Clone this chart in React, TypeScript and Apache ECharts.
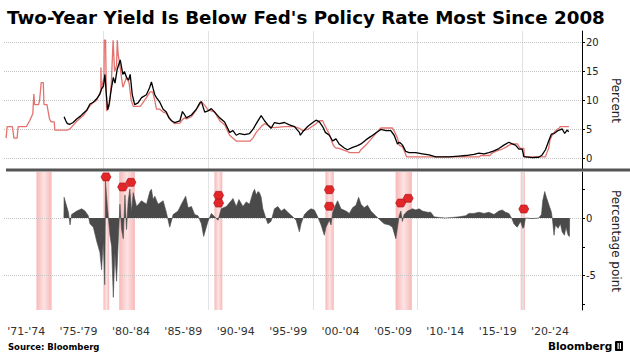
import React, { useEffect, useRef } from "react";
import * as echarts from "echarts";

const titleText = "Two-Year Yield Is Below Fed's Policy Rate Most Since 2008";
const periodLabels = ["'71-'74", "'75-'79", "'80-'84", "'85-'89", "'90-'94", "'95-'99", "'00-'04", "'05-'09", "'10-'14", "'15-'19", "'20-'24"];
const topTicks = [0, 5, 10, 15, 20];
const bottomTicks = [2.5, 0, -2.5, -5, -7.5];
const bottomLabels = [0, -5];
const decadeLines = [1980, 1990, 2000, 2010, 2020];

// Fed policy rate (upper bound), [year, percent]
const policyRate: [number, number][] = [
  [1970.7, 3.5], [1970.8, 5.5], [1971.3, 5.5], [1971.45, 3.5], [1971.75, 3.5], [1971.85, 5.5], [1972.65, 5.5],
  [1972.95, 6.5], [1973.25, 7.7], [1973.35, 11.1], [1973.42, 9.3], [1973.8, 9.3], [1973.9, 10.0], [1974.05, 13.1],
  [1974.25, 13.1], [1974.32, 9.3], [1974.6, 9.3], [1974.85, 6.8], [1975.0, 6.3], [1975.3, 6.3], [1975.35, 4.9],
  [1976.5, 4.9], [1976.8, 5.1], [1977.44, 6.4], [1978.08, 7.4], [1978.71, 9.1], [1979.03, 9.7], [1979.35, 10.0],
  [1979.66, 11.4], [1979.74, 11.5], [1979.76, 15.7], [1979.8, 12.0], [1980.05, 14.0], [1980.08, 20.4], [1980.2, 20.4],
  [1980.3, 8.2], [1980.55, 9.0], [1980.75, 13.0], [1980.92, 20.4], [1980.98, 20.4], [1981.06, 15.0], [1981.25, 16.0],
  [1981.32, 20.4], [1981.4, 18.0], [1981.57, 16.0], [1981.85, 12.3], [1982.0, 13.0], [1982.2, 14.0], [1982.45, 13.0],
  [1982.65, 10.0], [1982.85, 9.0], [1983.5, 9.0], [1983.64, 9.3], [1984.1, 10.5], [1984.45, 11.5], [1984.7, 11.5],
  [1984.9, 10.0], [1985.06, 8.5], [1985.38, 8.5], [1985.7, 8.0], [1986.0, 7.8], [1986.5, 6.5], [1986.8, 6.0],
  [1987.3, 6.1], [1987.54, 6.7], [1987.76, 7.0], [1987.92, 6.8], [1988.4, 7.2], [1988.87, 8.4], [1989.35, 9.8],
  [1989.66, 9.2], [1989.98, 8.4], [1990.3, 8.2], [1990.62, 8.0], [1991.1, 6.5], [1991.57, 5.8], [1992.05, 4.0],
  [1992.37, 3.5], [1992.68, 3.0], [1994.0, 3.0], [1994.27, 3.5], [1994.59, 4.5], [1995.06, 5.5], [1995.38, 6.0],
  [1995.7, 5.7], [1996.0, 5.4], [1996.33, 5.3], [1997.28, 5.5], [1998.24, 5.5], [1998.71, 5.2], [1999.03, 4.8],
  [1999.5, 5.0], [1999.99, 5.6], [2000.3, 6.0], [2000.62, 6.5], [2000.93, 6.5], [2001.19, 5.5], [2001.57, 4.2],
  [2001.89, 2.5], [2002.05, 2.0], [2002.2, 1.8], [2002.5, 1.75], [2003.0, 1.4], [2003.3, 1.2], [2003.5, 1.0],
  [2004.4, 1.0], [2004.59, 1.5], [2005.06, 2.3], [2005.54, 3.3], [2006.0, 4.3], [2006.49, 5.25], [2007.6, 5.25],
  [2007.76, 4.75], [2008.08, 3.5], [2008.24, 2.3], [2008.56, 2.0], [2008.8, 1.0], [2008.95, 0.25], [2015.9, 0.25],
  [2016.0, 0.5], [2016.9, 0.5], [2017.0, 0.75], [2017.2, 1.0], [2017.5, 1.25], [2017.95, 1.5], [2018.24, 1.75],
  [2018.5, 2.0], [2018.72, 2.25], [2018.95, 2.5], [2019.55, 2.5], [2019.6, 2.25], [2019.7, 2.0], [2019.8, 1.75],
  [2020.15, 1.75], [2020.18, 0.25], [2022.2, 0.25], [2022.35, 1.0], [2022.52, 1.75], [2022.65, 3.25], [2022.85, 4.0],
  [2023.03, 4.5], [2023.32, 5.0], [2023.54, 5.25], [2023.62, 5.5], [2024.45, 5.5],
];

// Two-year Treasury yield, [year, percent]
const twoYearYield: [number, number][] = [
  [1976.24, 7.2], [1976.4, 6.5], [1976.55, 6.0], [1976.8, 5.9], [1977.1, 6.2], [1977.44, 6.8], [1977.8, 7.3],
  [1978.08, 7.8], [1978.4, 8.3], [1978.71, 9.4], [1979.03, 9.7], [1979.35, 10.3], [1979.66, 11.1], [1979.82, 12.0],
  [1980.0, 12.5], [1980.14, 14.5], [1980.25, 11.5], [1980.4, 8.4], [1980.55, 9.5], [1980.75, 12.0], [1980.94, 14.0],
  [1981.1, 13.0], [1981.3, 15.3], [1981.6, 17.0], [1981.85, 14.5], [1982.0, 15.0], [1982.2, 14.0], [1982.4, 13.5],
  [1982.55, 14.5], [1982.75, 11.0], [1982.98, 9.3], [1983.3, 9.6], [1983.64, 10.5], [1984.1, 11.0], [1984.4, 12.2],
  [1984.58, 13.2], [1984.75, 12.0], [1984.9, 11.0], [1985.06, 10.5], [1985.38, 9.7], [1985.7, 8.5], [1986.0, 8.0],
  [1986.25, 7.0], [1986.5, 6.5], [1986.8, 6.2], [1987.3, 6.5], [1987.54, 8.1], [1987.76, 7.5], [1987.92, 7.0],
  [1988.4, 7.5], [1988.87, 8.5], [1989.2, 9.6], [1989.35, 9.8], [1989.67, 8.0], [1989.98, 8.2], [1990.3, 8.6],
  [1990.62, 8.0], [1991.1, 7.0], [1991.57, 6.3], [1992.05, 4.5], [1992.37, 4.8], [1992.68, 4.0], [1993.0, 4.3],
  [1993.47, 4.1], [1993.95, 4.3], [1994.27, 5.0], [1994.59, 6.0], [1995.06, 7.4], [1995.38, 6.5], [1995.7, 5.8],
  [1996.0, 5.2], [1996.33, 6.2], [1996.8, 6.0], [1997.28, 6.2], [1997.76, 5.8], [1998.24, 5.5], [1998.71, 4.5],
  [1998.8, 4.0], [1999.03, 4.6], [1999.5, 5.5], [1999.99, 6.2], [2000.3, 6.6], [2000.62, 6.3], [2000.93, 5.5],
  [2001.19, 4.5], [2001.57, 4.0], [2001.89, 3.0], [2002.05, 3.2], [2002.2, 3.4], [2002.5, 2.5], [2003.0, 1.8],
  [2003.3, 1.5], [2003.8, 1.9], [2004.27, 2.2], [2004.59, 2.5], [2005.06, 3.2], [2005.54, 3.8], [2006.0, 4.4],
  [2006.49, 5.0], [2006.97, 4.8], [2007.44, 4.8], [2007.76, 4.0], [2008.08, 2.5], [2008.24, 2.8], [2008.4, 2.6],
  [2008.56, 2.3], [2008.87, 1.2], [2009.19, 1.0], [2009.83, 1.0], [2010.46, 0.8], [2011.1, 0.6], [2011.73, 0.25],
  [2013.0, 0.25], [2013.95, 0.4], [2014.59, 0.5], [2015.38, 0.7], [2015.86, 0.9], [2016.34, 0.8], [2016.81, 1.0],
  [2017.29, 1.3], [2017.76, 1.7], [2018.24, 2.3], [2018.72, 2.8], [2019.03, 2.5], [2019.35, 2.3], [2019.67, 1.6],
  [2019.99, 1.6], [2020.15, 0.3], [2020.94, 0.15], [2021.57, 0.2], [2021.89, 0.6], [2022.21, 1.5], [2022.52, 3.0],
  [2022.78, 4.2], [2023.03, 4.3], [2023.32, 4.7], [2023.54, 4.9], [2023.8, 5.1], [2024.05, 4.3], [2024.27, 4.9],
  [2024.43, 4.6],
];

// Spread (two-year yield minus policy rate), [year, percentage point]
const spread: [number, number][] = [
  [1976.22, 0], [1976.24, 1.8], [1976.49, 1.0], [1976.65, 0.5], [1976.81, -0.6], [1976.95, 0.3], [1977.44, 0.6],
  [1977.92, 0.8], [1978.24, 0.6], [1978.55, 0.2], [1978.71, -0.5], [1979.03, -0.8], [1979.35, -2.0], [1979.66, -3.0],
  [1979.82, -4.5], [1979.98, -2.0], [1980.12, -5.8], [1980.2, 3.2], [1980.37, 1.0], [1980.62, -1.5], [1980.78, -2.5],
  [1980.94, -6.9], [1981.09, -3.0], [1981.25, -5.5], [1981.41, -2.0], [1981.57, 1.2], [1981.73, -1.0],
  [1981.89, -1.8], [1982.05, 2.0], [1982.2, -1.0], [1982.36, 1.5], [1982.52, 2.5], [1982.68, 0.5], [1982.84, 2.2],
  [1983.16, 1.0], [1983.63, 1.5], [1984.11, 1.2], [1984.43, 2.3], [1984.58, 2.5], [1984.74, 1.6], [1984.9, 1.9],
  [1985.22, 1.2], [1985.7, 1.5], [1986.0, 0.5], [1986.33, -0.8], [1986.65, 0.3], [1987.12, 0.6], [1987.44, 1.2],
  [1987.85, 1.9], [1988.08, 0.9], [1988.4, 1.0], [1988.71, 0.3], [1989.03, 0.2], [1989.35, -0.5], [1989.57, -1.6],
  [1989.82, -0.8], [1989.98, -0.3], [1990.3, 0.4], [1990.62, 0.1], [1990.94, -0.2], [1991.25, 0.8], [1991.73, 1.0],
  [1992.2, 1.5], [1992.37, 1.7], [1992.68, 1.0], [1992.94, 1.6], [1993.32, 1.0], [1993.63, 1.4], [1993.95, 1.2],
  [1994.27, 2.2], [1994.43, 2.5], [1994.59, 2.0], [1994.75, 2.3], [1994.9, 2.2], [1995.06, 1.8], [1995.22, 0.8],
  [1995.54, -0.1], [1995.7, -0.5], [1996.0, -0.3], [1996.33, 0.8], [1996.65, 1.0], [1996.97, 0.6], [1997.28, 0.8],
  [1997.6, 0.5], [1998.08, 0.1], [1998.4, -0.2], [1998.71, -1.2], [1998.87, -0.5], [1999.19, 0.3], [1999.5, 0.6],
  [1999.82, 0.8], [2000.14, 0.7], [2000.46, 0.1], [2000.78, -0.6], [2001.09, -1.5], [2001.25, -0.8],
  [2001.57, -0.2], [2001.73, -0.6], [2001.89, 0.5], [2002.2, 1.2], [2002.36, 1.5], [2002.68, 0.8], [2003.16, 0.6],
  [2003.48, 0.4], [2003.79, 0.9], [2004.11, 1.1], [2004.37, 1.8], [2004.59, 1.2], [2004.9, 0.9], [2005.22, 1.1],
  [2005.54, 0.6], [2005.86, 0.3], [2006.33, -0.1], [2006.81, -0.5], [2007.29, -0.6], [2007.6, -0.8],
  [2007.92, -1.8], [2008.08, -0.8], [2008.24, 0.2], [2008.4, 0.6], [2008.55, -0.3], [2008.71, 0.3], [2009.03, 0.6],
  [2009.51, 0.8], [2009.83, 0.7], [2010.14, 0.8], [2010.46, 0.6], [2010.94, 0.5], [2011.26, 0.5], [2011.57, 0.1],
  [2012.05, 0.05], [2012.68, 0.0], [2013.32, 0.05], [2013.95, 0.1], [2014.59, 0.2], [2014.9, 0.4], [2015.38, 0.4],
  [2015.86, 0.5], [2016.34, 0.4], [2016.81, 0.5], [2017.29, 0.3], [2017.76, 0.6], [2018.08, 0.7], [2018.4, 0.5],
  [2018.72, 0.4], [2019.03, -0.1], [2019.19, -0.5], [2019.51, -0.8], [2019.83, -0.3], [2020.05, -0.9],
  [2020.15, -0.8], [2020.3, 0.0], [2020.94, -0.05], [2021.57, 0.0], [2021.83, 0.3], [2021.95, 1.5], [2022.14, 2.3],
  [2022.3, 1.8], [2022.52, 1.2], [2022.78, 0.5], [2022.9, -0.3], [2023.03, -1.5], [2023.16, -0.6], [2023.41, -0.9],
  [2023.64, -0.5], [2023.8, -1.2], [2024.02, -1.5], [2024.18, -0.8], [2024.37, -1.5], [2024.5, -1.6], [2024.52, 0],
];

// Recession periods (start year, end year)
const recessionStarts = [1973.6, 1980.0, 1981.5, 1990.6, 2001.2, 2007.9, 2019.85];
const recessionEnds = [1975.05, 1980.55, 1983.0, 1991.35, 2002.0, 2009.45, 2020.25];

// Event markers in the lower panel [year, percentage point]
const eventMarkers: [number, number][] = [
  [1980.24, 3.57], [1981.83, 2.7], [1982.62, 3.1], [1991.0, 1.97], [1991.0, 1.3],
  [2001.57, 2.46], [2001.57, 1.02], [2008.38, 1.3], [2009.1, 1.71], [2020.14, 0.78],
];

const FONT = '"DejaVu Sans", Verdana, sans-serif';

export default function App() {
  const ref = useRef<HTMLDivElement>(null);
  useEffect(() => {
    if (!ref.current) return;
    const chart = echarts.init(ref.current, null, { renderer: "svg" });

    const gridV = decadeLines.map((y) => ({
      xAxis: y,
      lineStyle: { color: "#e2e2e2", width: 1, type: "solid" },
    }));
    const gridTopH = topTicks.map((v) => ({
      yAxis: v,
      lineStyle: { color: "#c4c4c4", width: 1, type: "dotted" },
    }));
    const gridBotH = bottomLabels.map((v) => ({
      yAxis: v,
      lineStyle: { color: "#c4c4c4", width: 1, type: "dotted" },
    }));

    const pinkGradient = {
      type: "linear", x: 0, y: 0, x2: 1, y2: 0,
      colorStops: [
        { offset: 0, color: "#f7b8b8" },
        { offset: 0.5, color: "#fde3e3" },
        { offset: 1, color: "#f7b8b8" },
      ],
    };

    const option: any = {
      animation: false,
      backgroundColor: "#ffffff",
      textStyle: { fontFamily: FONT },
      grid: [
        { left: 4, right: 46, top: 31, height: 139 },
        { left: 4, right: 46, top: 172, height: 138 },
        { left: -1.25, width: 577.5, top: 311, height: 1 },
      ],
      xAxis: [
        { gridIndex: 0, type: "value", min: 1970.5, max: 2025.7, show: false },
        { gridIndex: 1, type: "value", min: 1970.5, max: 2025.7, show: false },
        {
          gridIndex: 2, type: "category", data: periodLabels, boundaryGap: true,
          axisLine: { show: false }, axisTick: { show: false }, splitLine: { show: false },
          axisLabel: { interval: 0, margin: 14, fontSize: 11, color: "#333", fontFamily: FONT },
        },
      ],
      yAxis: [
        {
          gridIndex: 0, type: "value", position: "right", min: -2, max: 22,
          axisLine: { show: true, lineStyle: { color: "#000", width: 1 } },
          axisTick: { show: true, length: 3, customValues: topTicks, lineStyle: { color: "#000" } },
          axisLabel: { customValues: topTicks, margin: 4, fontSize: 10, color: "#222", fontFamily: FONT },
          splitLine: { show: false },
          name: "Percent", nameLocation: "middle", nameRotate: -90, nameGap: 28,
          nameTextStyle: { fontSize: 12, color: "#222", fontFamily: FONT },
        },
        {
          gridIndex: 1, type: "value", position: "right", min: -8, max: 4,
          axisLine: { show: true, lineStyle: { color: "#000", width: 1 } },
          axisTick: { show: true, length: 3, customValues: bottomTicks, lineStyle: { color: "#000" } },
          axisLabel: { customValues: bottomLabels, margin: 4, fontSize: 10, color: "#222", fontFamily: FONT },
          splitLine: { show: false },
          name: "Percentage point", nameLocation: "middle", nameRotate: -90, nameGap: 28,
          nameTextStyle: { fontSize: 12, color: "#222", fontFamily: FONT },
        },
        { gridIndex: 2, type: "value", show: false },
      ],
      series: [
        {
          type: "line", name: "Fed policy rate", xAxisIndex: 0, yAxisIndex: 0,
          data: policyRate, showSymbol: false, symbol: "none", z: 3,
          lineStyle: { color: "#e3716d", width: 1.3 },
          markLine: {
            silent: true, symbol: "none", z: 1, label: { show: false },
            data: [...gridV, ...gridTopH],
          },
        },
        {
          type: "line", name: "Two-year yield", xAxisIndex: 0, yAxisIndex: 0,
          data: twoYearYield, showSymbol: false, symbol: "none", z: 4,
          lineStyle: { color: "#000", width: 1.3 },
        },
        {
          type: "line", name: "Spread", xAxisIndex: 1, yAxisIndex: 1,
          data: spread, showSymbol: false, symbol: "none", z: 3,
          lineStyle: { color: "#4a4a4a", width: 0.6 },
          areaStyle: { color: "#4a4a4a", opacity: 1 },
          markLine: {
            silent: true, symbol: "none", z: 1, label: { show: false },
            data: [...gridV, ...gridBotH],
          },
          markArea: {
            silent: true, z: 0,
            itemStyle: { color: pinkGradient },
            data: recessionStarts.map((s, i) => [{ xAxis: s }, { xAxis: recessionEnds[i] }]),
          },
        },
        {
          type: "scatter", name: "Events", xAxisIndex: 1, yAxisIndex: 1,
          data: eventMarkers, z: 6,
          symbol: "path://M0,5 L3,0 L11,0 L14,5 L11,10 L3,10 Z",
          symbolSize: [10, 8],
          itemStyle: { color: "#e2262a", borderColor: "#a31212", borderWidth: 0.6, opacity: 1 },
        },
      ],
      graphic: [
        {
          type: "text", left: 7, top: 8,
          style: { text: titleText, font: `bold 18.3px ${FONT}`, fill: "#000" },
        },
        {
          type: "rect", shape: { x: 6, y: 168.5, width: 624, height: 3 },
          style: { fill: "#555" }, z: 10,
        },
        {
          type: "text", left: 8, top: 342,
          style: { text: "Source: Bloomberg", font: `bold 8.5px ${FONT}`, fill: "#000" },
        },
        {
          type: "text", left: 548, top: 340,
          style: { text: "Bloomberg", font: `bold 10.5px ${FONT}`, fill: "#000" },
        },
        {
          type: "rect", shape: { x: 615, y: 341, width: 8, height: 10, r: 1 },
          style: { fill: "#000" },
        },
        {
          type: "rect", shape: { x: 617.5, y: 343, width: 1.2, height: 6 },
          style: { fill: "#fff" },
        },
        {
          type: "rect", shape: { x: 619.8, y: 343, width: 1.2, height: 6 },
          style: { fill: "#fff" },
        },
      ],
    };

    chart.setOption(option);
    return () => chart.dispose();
  }, []);

  return <div ref={ref} style={{ width: 630, height: 359, position: "absolute", left: 0, top: 0 }} />;
}
